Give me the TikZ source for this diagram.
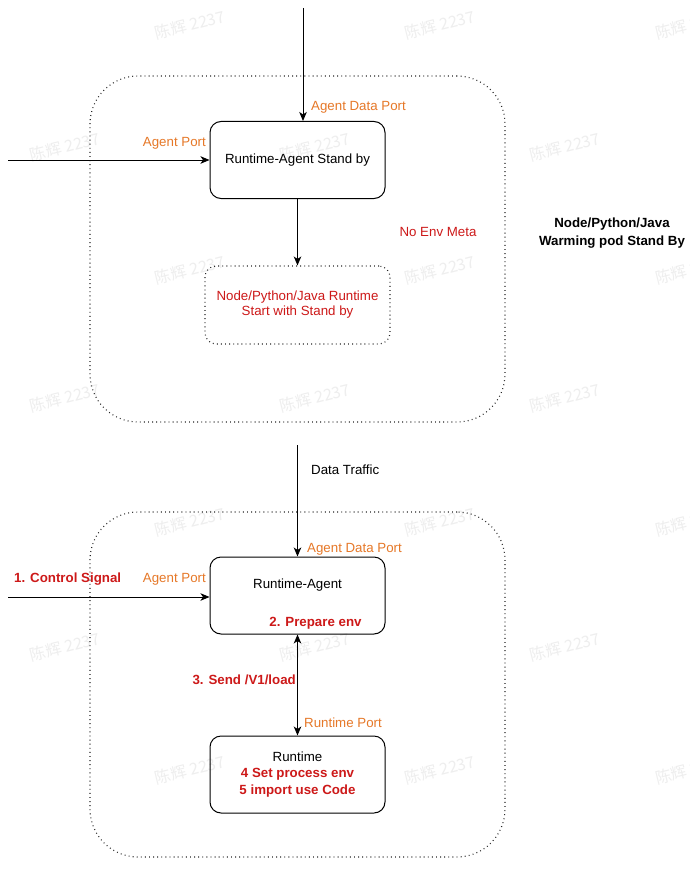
\documentclass[tikz,border=0pt]{standalone}
\usepackage{fontspec}
\setmainfont{Liberation Sans}
\newfontfamily\cjk{Noto Sans CJK SC}
\usetikzlibrary{arrows.meta}
\definecolor{portorange}{RGB}{230,120,40}
\definecolor{stepred}{RGB}{205,25,25}
\definecolor{wmgray}{RGB}{238,238,238}
\begin{document}
\begin{tikzpicture}[x=1pt,y=-1pt,
  font=\fontsize{13.3}{16}\selectfont,
  arr/.style={draw=black,line width=0.9pt,-{Stealth[length=9pt,width=7.5pt,inset=2.5pt]}},
  dblarr/.style={draw=black,line width=0.9pt,{Stealth[length=9pt,width=7.5pt,inset=2.5pt]}-{Stealth[length=9pt,width=7.5pt,inset=2.5pt]}},
  podbox/.style={draw=black!85,line width=1.1pt,dash pattern=on 0.9pt off 3.2pt,rounded corners=48pt,minimum width=415pt,minimum height=346pt,inner sep=0pt},
  procbox/.style={draw=black,line width=1pt,rounded corners=11pt,minimum width=175pt,minimum height=77pt,align=center,inner sep=2pt},
  dotbox/.style={draw=black!85,line width=1.1pt,dash pattern=on 0.9pt off 3.2pt,rounded corners=11pt,minimum width=185pt,minimum height=78pt,align=center,text=stepred},
  portlbl/.style={text=portorange,inner sep=0pt},
  redlbl/.style={text=stepred,inner sep=0pt},
  redbold/.style={text=stepred,font=\fontsize{13.3}{16}\selectfont\bfseries,inner sep=0pt},
  plainlbl/.style={inner sep=0pt},
  wmark/.style={text=wmgray,rotate=14,font=\cjk\fontsize{16}{18}\selectfont,inner sep=0pt}
]
\useasboundingbox (0,0) rectangle (690,872);
\fill[white] (0,0) rectangle (690,872);

% watermarks
\foreach \yy in {25,270,522,770} {
  \foreach \xx in {190,440,690} {
    \node[wmark] (wm-\xx-\yy) at (\xx,\yy) {陈辉 2237};
  }
}
\foreach \yy in {147,398,647} {
  \foreach \xx in {65,315,565} {
    \node[wmark] (wm-\xx-\yy) at (\xx,\yy) {陈辉 2237};
  }
}

% ---------- top pod ----------
\node[podbox] (pod1) at (297.5,249) {};
\node[procbox] (agent1) at (297.5,160) {Runtime-Agent Stand by};
\node[dotbox] (rt1) at (297.5,305) {Node/Python/Java Runtime\\[-1pt]Start with Stand by};

\coordinate (topin) at (303,8);
\coordinate (leftin1) at (8,160);
\draw[arr] (topin) -- (topin |- agent1.north);
\draw[arr] (leftin1) -- (agent1.west);
\draw[arr] (agent1.south) -- (rt1.north);

\node[portlbl,anchor=west] (adp1) at (311,107) {Agent Data Port};
\node[portlbl,anchor=east] (ap1) at (206,143) {Agent Port};
\node[redlbl] (noenv) at (438,232) {No Env Meta};
\node[plainlbl,align=center,font=\fontsize{13.3}{18}\selectfont\bfseries] (warm) at (612,233) {Node/Python/Java\\Warming pod Stand By};

% ---------- bottom pod ----------
\node[podbox,minimum height=345pt] (pod2) at (297.5,684.5) {};
\node[procbox] (agent2) at (297.5,595.5) {Runtime-Agent\\[8pt]\mbox{}};
\node[procbox] (rt2) at (297.5,774.5) {Runtime\\[0.5pt]{\color{stepred}\bfseries 4 Set process env}\\[0.5pt]{\color{stepred}\bfseries 5 import use Code}};

\coordinate (datain) at (297.5,445);
\coordinate (leftin2) at (8,597);
\draw[arr] (datain) -- (agent2.north);
\draw[arr] (leftin2) -- (leftin2 -| agent2.west);
\draw[dblarr] (agent2.south) -- (rt2.north);

\node[plainlbl,anchor=west] (traffic) at (311,470) {Data Traffic};
\node[portlbl,anchor=west] (adp2) at (307,549) {Agent Data Port};
\node[portlbl,anchor=east] (ap2) at (206,579) {Agent Port};
\node[redbold,anchor=west] (ctrl) at (14,579) {1. Control Signal};
\node[redbold] (prep) at (315.5,623) {2. Prepare env};
\node[redbold,anchor=east] (send) at (296,680) {3. Send /V1/load};
\node[portlbl,anchor=west] (rtport) at (304,723) {Runtime Port};
\end{tikzpicture}
\end{document}
